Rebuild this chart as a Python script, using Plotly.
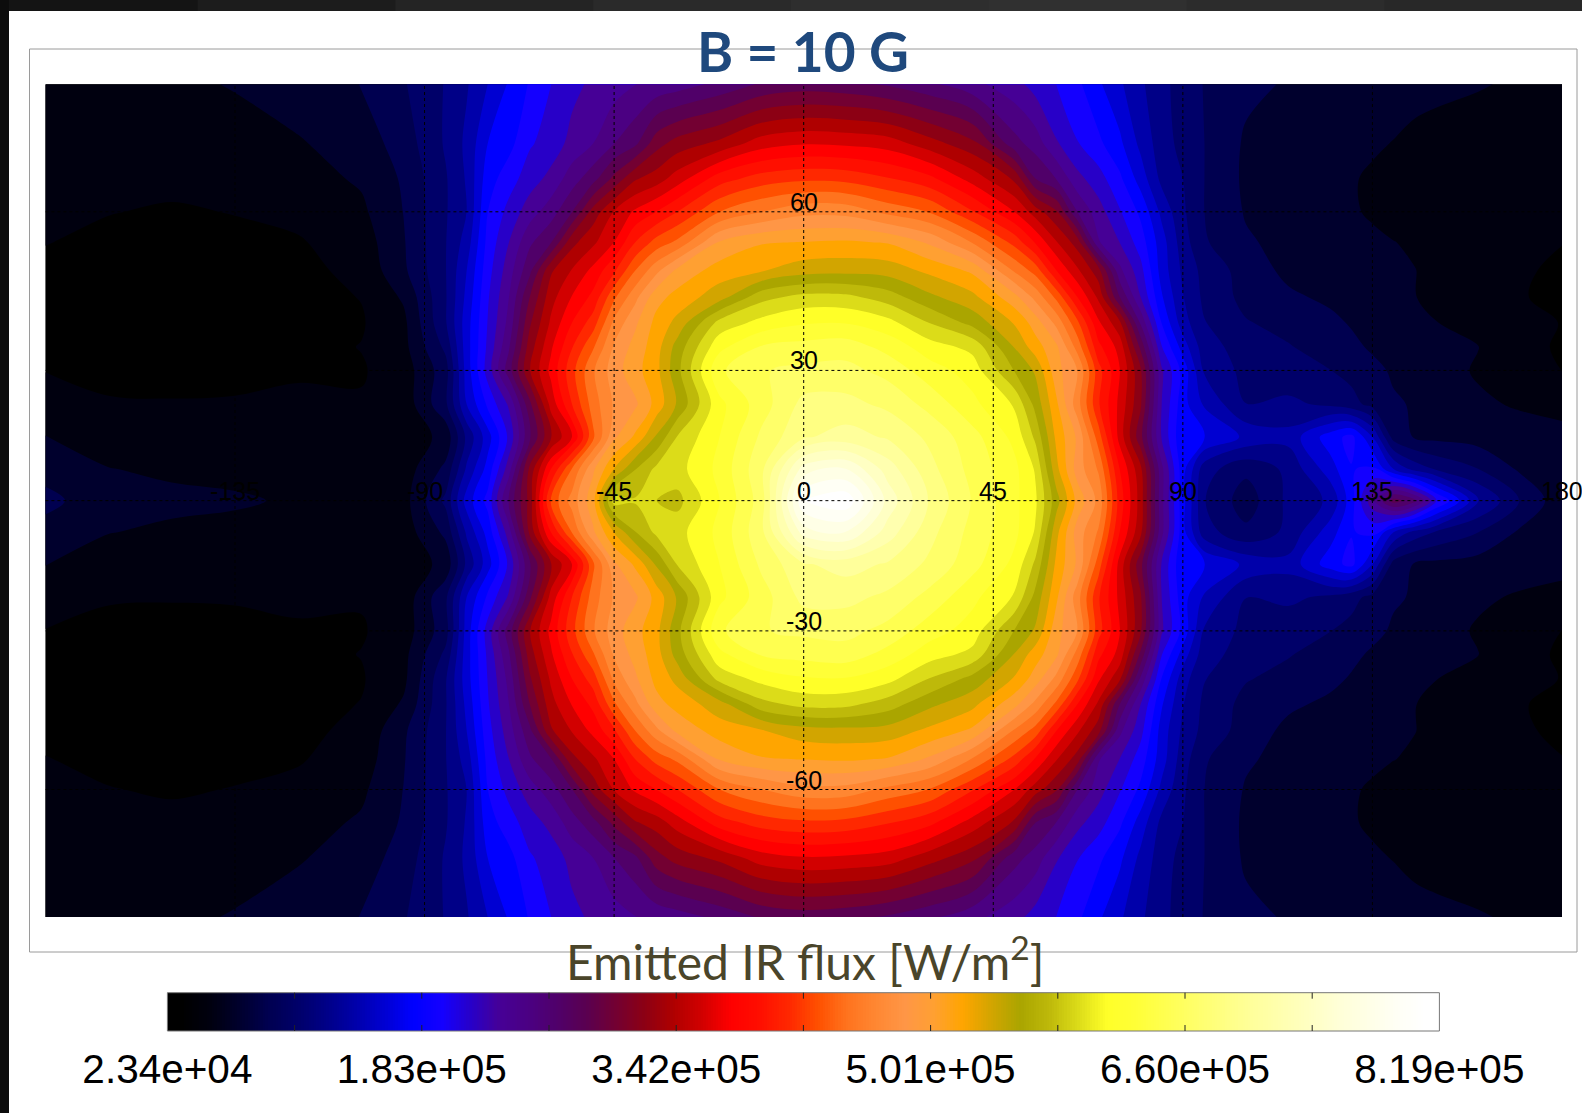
import math
import plotly.graph_objects as go

W, H = 1582, 1113
lon = [-180,-165,-150,-135,-120,-105,-95, -85,-80,-75,-70,-65,-60,-55,-50,-45,-40,-35,-30,
       -20,-10,0,10,20,30,40,50, 55,60,65,70,75,80,85,90,95, 105,115,125,130,135,140,145,150,160,170,180]
lat_north = [0, 7.5, 15, 22.5, 30, 35, 40, 45, 50, 55, 60, 65, 70, 77.2]
# flux in 10^3 W/m2, one row per latitude (equator first, going north)
flux_00 = [82,68,63,62,57,50,52, 100,158,192,262,320,425,465,505,592,586,584,578, 620,665,800,815,740,690,655,625, 605,555,505,470,395,340,245,175,115, 86,118,135,178,235,285,265,210,135,95,66]
flux_07 = [72,60,57,54,52,50,50, 82,135,175,232,318,385,440,490,530,565,588,595, 625,670,755,765,720,680,650,625, 600,535,485,455,385,335,245,175,122, 100,118,160,185,190,150,125,112,96,75,62]
flux_15 = [60,52,50,48,46,46,48, 65,118,160,208,275,330,367,435,490,515,550,585, 620,660,690,700,690,670,645,615, 580,525,490,430,360,300,220,170,170, 146,138,178,192,150,88,76,73,70,66,63]
flux_22 = [50,44,43,43,44,43,48, 92,150,190,225,290,355,403,448,478,490,518,550, 615,648,680,680,670,650,625,600, 560,515,465,405,362,315,222,175,148, 114,118,110,102,90,80,76,72,62,58,56]
flux_30 = [41,34,34,37,40,40,50, 88,158,212,268,330,372,415,455,485,505,524,560, 635,655,660,662,650,628,612,565, 545,500,475,410,368,315,225,180,130, 108,102,96,90,83,75,70,66,58,50,41]
flux_35 = [36,34,34,34,36,42,54, 100,160,208,256,322,364,402,437,478,500,522,555, 615,640,645,648,632,610,597,547, 520,497,450,390,360,290,205,160,122, 105,97,88,82,75,72,68,65,60,50,38]
flux_40 = [36,35,34,35,36,40,55, 112,160,205,246,310,352,385,412,462,490,517,535, 590,608,618,619,608,583,560,528, 503,470,425,370,335,255,185,140,115, 97,90,82,76,72,66,62,60,52,46,41]
flux_45 = [36,34,34,34,36,42,62, 112,155,202,240,295,342,368,390,436,470,505,518, 540,578,590,589,575,552,535,500, 470,435,385,345,277,222,170,133,110, 90,81,74,70,68,65,60,56,50,43,36]
flux_50 = [38,35,34,35,37,46,74, 113,150,197,232,272,328,350,372,400,439,470,498, 520,528,540,542,540,525,508,455, 432,385,352,320,245,210,160,128,108, 88,73,70,68,66,63,60,55,50,44,38]
flux_55 = [42,38,37,38,40,50,76, 113,140,192,222,255,275,325,345,367,403,428,443, 495,510,512,514,510,490,456,415, 383,350,322,242,222,195,158,122,98, 80,72,68,65,62,60,57,53,50,47,42]
flux_60 = [46,42,40,42,46,56,78, 112,132,186,210,232,250,276,320,350,370,385,403, 439,457,470,469,452,438,405,367, 340,315,258,230,206,182,145,117,96, 76,68,64,61,58,52,50,50,50,52,46]
flux_65 = [44,45,45,47,52,62,80, 112,134,178,196,214,228,250,270,300,329,340,358, 395,412,418,416,405,390,360,328, 277,258,228,212,190,160,127,114,96, 74,68,63,61,57,52,50,49,48,47,46]
flux_70 = [44,45,47,51,58,68,86, 116,136,168,180,202,212,228,240,258,272,305,320, 335,358,365,363,358,338,318,265, 250,224,205,190,172,145,122,108,96, 75,72,68,65,62,59,55,53,50,48,47]
flux_77 = [48,51,55,61,69,78,94, 115,130,150,170,188,204,217,226,232,240,245,250, 263,279,285,282,274,262,246,229, 215,204,190,171,153,135,119,106,95, 82,76,73,71,70,68,66,64,61,57,52]
north_rows = [flux_00, flux_07, flux_15, flux_22, flux_30, flux_35, flux_40, flux_45, flux_50, flux_55, flux_60, flux_65, flux_70, flux_77]

tick_values = [23400, 182500, 341600, 500700, 659800, 818900]
tick_labels = ["2.34e+04", "1.83e+05", "3.42e+05", "5.01e+05", "6.60e+05", "8.19e+05"]
lon_labels = [-135, -90, -45, 0, 45, 90, 135, 180]
lat_labels = [60, 30, -30, -60]
title_text = "<b>B = 10 G</b>"
cbar_title = "Emitted IR flux [W/m<sup>2</sup>]"
n_bands = 44
band_colors = [(0,0,0),(0,0,15),(0,0,45),(0,0,80),(0,0,105),(0,0,135),(0,0,170),(0,0,210),(0,0,255),(20,0,255),
 (40,0,200),(70,0,150),(75,0,130),(80,0,105),(90,0,80),(115,0,50),(140,0,20),(175,0,0),(210,0,0),(255,0,0),
 (255,15,0),(255,40,0),(255,80,0),(255,115,30),(255,135,50),(255,150,70),(255,160,50),(255,165,0),(210,165,0),
 (170,165,0),(190,185,10),(220,220,25),(255,255,40),(255,255,55),(255,255,80),(255,255,105),(255,255,130),
 (255,255,155),(255,255,175),(255,255,195),(255,255,215),(255,255,230),(255,255,245),(255,255,255)]

def miller(phi):
    return 1.25 * math.log(math.tan(math.pi / 4 + 0.4 * math.radians(phi)))

color_stops = [[0, "rgb(0,0,0)"]] + [[(i + .5) / n_bands, "rgb(%d,%d,%d)" % c] for i, c in enumerate(band_colors)] + [[1, "rgb(255,255,255)"]]
lats = [-v for v in reversed(lat_north[1:])] + lat_north
rows = list(reversed(north_rows[1:])) + north_rows
y_rows = [miller(v) for v in lats]
z = [[v * 1000 for v in row] for row in rows]
ytop = miller(77.2)

L, R, T, B = 45.4, 1562, 84.3, 917
CL, CR, CT, CB = 167.4, 1439.4, 992.7, 1031
px = lambda v: v / W
py = lambda v: 1 - v / H
zmin, zmax = tick_values[0], tick_values[-1]
step = (zmax - zmin) / n_bands

fig = go.Figure()
fig.add_trace(go.Contour(
    x=lon, y=y_rows, z=z, zmin=zmin, zmax=zmax, colorscale=color_stops, showscale=False,
    autocontour=False,
    contours=dict(start=zmin, end=zmax, size=step, coloring="fill", showlines=False),
    line=dict(width=0), hoverinfo="skip",
))
grid = dict(mode="lines", line=dict(color="black", width=1, dash="3px,3px"), hoverinfo="skip", showlegend=False)
for v in [0, 30, -30, 60, -60]:
    fig.add_trace(go.Scatter(x=[-180, 180], y=[miller(v)] * 2, **grid))
for v in [-135, -90, -45, 0, 45, 90, 135]:
    fig.add_trace(go.Scatter(x=[v, v], y=[-ytop, ytop], **grid))

bar_levels = [zmin + (zmax - zmin) * i / 500 for i in range(501)]
fig.add_trace(go.Heatmap(x=bar_levels, y=[0, 1], z=[bar_levels, bar_levels], xaxis="x2", yaxis="y2", zmin=zmin, zmax=zmax,
                         colorscale=color_stops, showscale=False, hoverinfo="skip"))

labfont = dict(family="Liberation Sans", size=25, color="black")
ann = []
for v in lon_labels:
    ann.append(dict(x=v, y=0, xref="x", yref="y", text=str(v), showarrow=False, yshift=10, font=labfont))
for v in lat_labels:
    ann.append(dict(x=0, y=miller(v), xref="x", yref="y", text=str(v), showarrow=False, yshift=10, font=labfont))
ann.append(dict(x=px(803), y=py(51), xref="paper", yref="paper", text=title_text, showarrow=False,
                xanchor="center", yanchor="middle", font=dict(family="Lato", size=55, color="#1F497D")))
ann.append(dict(x=px(804.5), y=py(958), xref="paper", yref="paper", text=cbar_title, showarrow=False,
                xanchor="center", yanchor="middle", font=dict(family="Lato", size=48, color="#4A452A")))

shapes = [dict(type="rect", xref="paper", yref="paper", x0=px(29.5), x1=px(1577), y0=py(49), y1=py(952),
               line=dict(color="#9a9a9a", width=1), fillcolor="rgba(0,0,0,0)", layer="below")]
strip = ["#141414", "#1c1c1c", "#242424", "#2a2a2a", "#2e2e2e", "#303030", "#2c2c2c", "#282828"]
for i, c in enumerate(strip):
    shapes.append(dict(type="rect", xref="paper", yref="paper", x0=i / 8, x1=min(1, (i + 1) / 8 + 0.002), y0=py(11), y1=1,
                       line=dict(width=0), fillcolor=c, layer="below"))
shapes.append(dict(type="rect", xref="paper", yref="paper", x0=0, x1=px(9), y0=0, y1=1,
                   line=dict(width=0), fillcolor="#0c0c0c"))
shapes.append(dict(type="rect", xref="paper", yref="paper", x0=px(CL), x1=px(CR), y0=py(CB), y1=py(CT),
                   line=dict(color="#777", width=1), fillcolor="rgba(0,0,0,0)"))
for v in [zmin + 0.1 * i * (zmax - zmin) for i in range(1, 10)]:
    xp = CL + (v - zmin) / (zmax - zmin) * (CR - CL)
    shapes.append(dict(type="line", xref="paper", yref="paper", x0=px(xp), x1=px(xp), y0=py(CT), y1=py(CT + 6),
                       line=dict(color="#222", width=1)))
    shapes.append(dict(type="line", xref="paper", yref="paper", x0=px(xp), x1=px(xp), y0=py(CB), y1=py(CB - 6),
                       line=dict(color="#222", width=1)))

fig.update_layout(
    width=W, height=H, margin=dict(l=0, r=0, t=0, b=0), paper_bgcolor="white", plot_bgcolor="white",
    showlegend=False, annotations=ann, shapes=shapes,
    xaxis=dict(domain=[px(L), px(R)], range=[-180, 180], visible=False, fixedrange=True, automargin=False),
    yaxis=dict(domain=[py(B), py(T)], range=[-ytop, ytop], visible=False, fixedrange=True, automargin=False),
    xaxis2=dict(domain=[px(CL), px(CR)], range=[zmin, zmax], anchor="y2", tickvals=tick_values, ticktext=tick_labels,
                ticks="outside", ticklen=2, tickcolor="rgba(0,0,0,0)", showgrid=False, zeroline=False, automargin=False,
                tickfont=dict(family="Liberation Sans", size=40.5, color="black"), fixedrange=True),
    yaxis2=dict(domain=[py(CB), py(CT)], range=[0, 1], visible=False, fixedrange=True, automargin=False),
)
fig.write_html("out.html", config=dict(displayModeBar=False),
               post_script="document.body.style.margin='0';document.body.style.overflow='hidden';")
